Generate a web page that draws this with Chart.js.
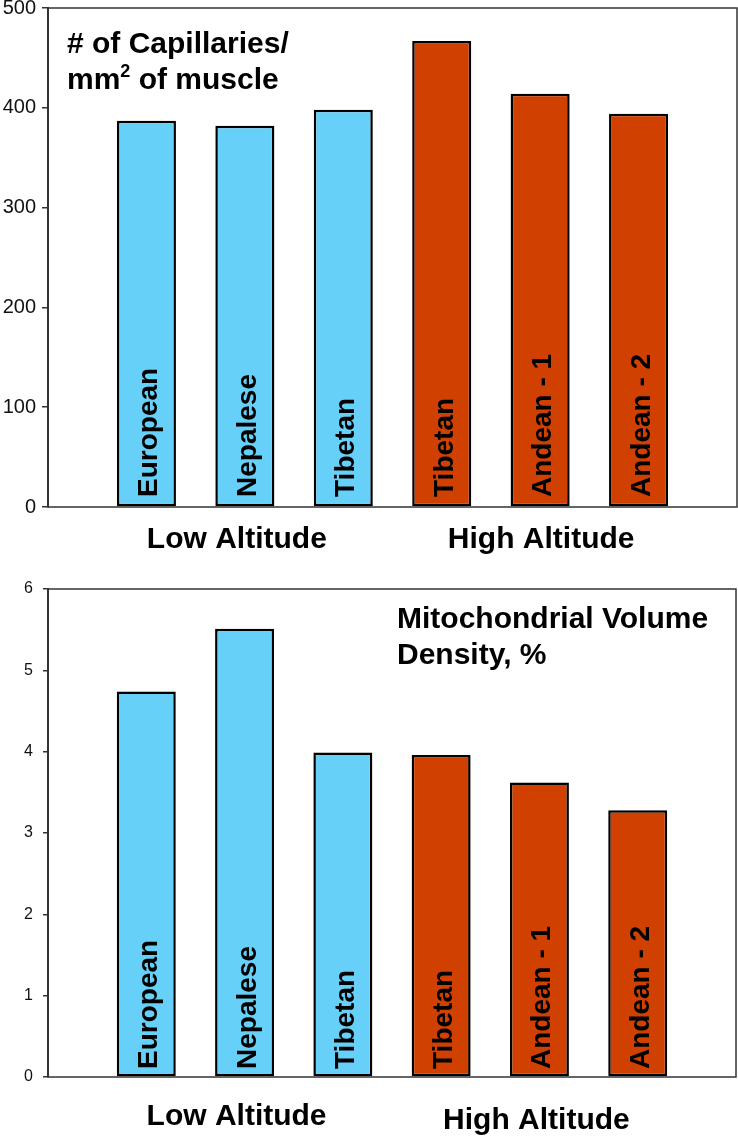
<!DOCTYPE html>
<html>
<head>
<meta charset="utf-8">
<script src="https://cdn.jsdelivr.net/npm/chart.js@4.4.0/dist/chart.umd.min.js"></script>
<style>
  html, body { margin: 0; padding: 0; background: #fff; }
  canvas { display: block; }
</style>
</head>
<body>
<canvas id="capillaries" width="738" height="570"></canvas>
<canvas id="mitochondria" width="738" height="566"></canvas>
<script>
// values
const populations = ['European', 'Nepalese', 'Tibetan', 'Tibetan', 'Andean - 1', 'Andean - 2'];
const altitude_group = [0, 0, 0, 1, 1, 1];
const group_labels = ['Low Altitude', 'High Altitude'];
const capillary_density = [387, 382, 398, 467, 414, 394];
const mito_volume_density = [4.74, 5.51, 3.99, 3.96, 3.62, 3.28];
const capillary_ticks = [0, 100, 200, 300, 400, 500];
const mito_ticks = [0, 1, 2, 3, 4, 5, 6];

const group_colors = ['#66d0f8', '#d04000'];
const FONT = '"Liberation Sans", Arial, Helvetica, sans-serif';

// frame, names inside the bars, group names and the title block
const annotate_plugin = {
	id: 'annotate',
	afterDatasetsDraw(chart, args, opts) {
		const ctx = chart.ctx;
		const area = chart.chartArea;
		const meta = chart.getDatasetMeta(0);
		ctx.save();

		ctx.strokeStyle = '#333';
		ctx.lineWidth = 1.5;
		ctx.strokeRect(area.left, area.top, area.right - area.left, area.bottom - area.top);

		ctx.fillStyle = '#000';
		ctx.font = 'bold 28px ' + FONT;
		ctx.textAlign = 'left';
		ctx.textBaseline = 'alphabetic';
		populations.forEach((name, i) => {
			const bar = meta.data[i + 1];
			ctx.save();
			ctx.translate(bar.x + 11, area.bottom - opts.textGap);
			ctx.rotate(-Math.PI / 2);
			ctx.fillText(name, 0, 0);
			ctx.restore();
		});

		ctx.font = 'bold 30px ' + FONT;
		ctx.textAlign = 'center';
		group_labels.forEach((label, g) => {
			let xs = [];
			altitude_group.forEach((grp, i) => {
				if (grp === g) xs.push(meta.data[i + 1].x);
			});
			const cx = xs.reduce((a, b) => a + b, 0) / xs.length;
			ctx.fillText(label, cx + opts.groupShift[g], area.bottom + opts.groupOffset[g]);
		});

		ctx.textAlign = 'left';
		opts.title.forEach((line, n) => {
			let x = opts.titleX;
			const y = opts.titleY + n * opts.titleLeading;
			line.forEach(part => {
				ctx.font = part.sup ? 'bold 18px ' + FONT : 'bold 30px ' + FONT;
				ctx.fillText(part.t, x, part.sup ? y - 12 : y);
				x += ctx.measureText(part.t).width;
			});
		});
		ctx.restore();
	}
};

function make_chart(canvas_id, values, ticks, cfg) {
	const labels = ['', ...populations, ''];
	const colors = [null, ...altitude_group.map(g => group_colors[g]), null];
	return new Chart(document.getElementById(canvas_id), {
		type: 'bar',
		data: {
			labels: labels,
			datasets: [{
				data: [null, ...values, null],
				backgroundColor: colors,
				borderColor: '#000',
				borderWidth: 2.5,
				borderSkipped: false,
				categoryPercentage: 1,
				barPercentage: 0.6
			}]
		},
		options: {
			responsive: false,
			animation: false,
			layout: { padding: cfg.padding },
			plugins: {
				legend: { display: false },
				tooltip: { enabled: false },
				annotate: cfg.annotate
			},
			scales: {
				x: {
					type: 'category',
					offset: false,
					display: false
				},
				y: {
					min: ticks[0],
					max: ticks[ticks.length - 1],
					afterBuildTicks: scale => {
						scale.ticks = ticks.map(v => ({ value: v }));
					},
					afterFit: scale => {
						scale.width = 48;
						scale.paddingTop = 0;
						scale.paddingBottom = 0;
					},
					grid: {
						drawOnChartArea: false,
						drawTicks: true,
						tickLength: cfg.tickLength,
						color: '#333',
						lineWidth: 1.5
					},
					border: { display: true, color: '#333', width: 2 },
					ticks: {
						color: '#111',
						font: { family: FONT, size: cfg.tickSize },
						padding: cfg.tickPadding
					}
				}
			}
		},
		plugins: [annotate_plugin]
	});
}

make_chart('capillaries', capillary_density, capillary_ticks, {
	padding: { top: 8, right: 1, bottom: 63, left: 0 },
	tickLength: 6,
	tickSize: 20,
	tickPadding: 6,
	annotate: {
		textGap: 10,
		groupOffset: [41, 41],
		groupShift: [-8, 1],
		titleX: 67,
		titleY: 53,
		titleLeading: 36,
		title: [
			[{ t: '# of Capillaries/' }],
			[{ t: 'mm' }, { t: '2', sup: true }, { t: ' of muscle' }]
		]
	}
});

make_chart('mitochondria', mito_volume_density, mito_ticks, {
	padding: { top: 19, right: 2, bottom: 59, left: 0 },
	tickLength: 5,
	tickSize: 16,
	tickPadding: 10,
	annotate: {
		textGap: 8,
		groupOffset: [48, 52],
		groupShift: [-8, -3],
		titleX: 397,
		titleY: 58,
		titleLeading: 36,
		title: [
			[{ t: 'Mitochondrial Volume' }],
			[{ t: 'Density, %' }]
		]
	}
});
</script>
</body>
</html>
